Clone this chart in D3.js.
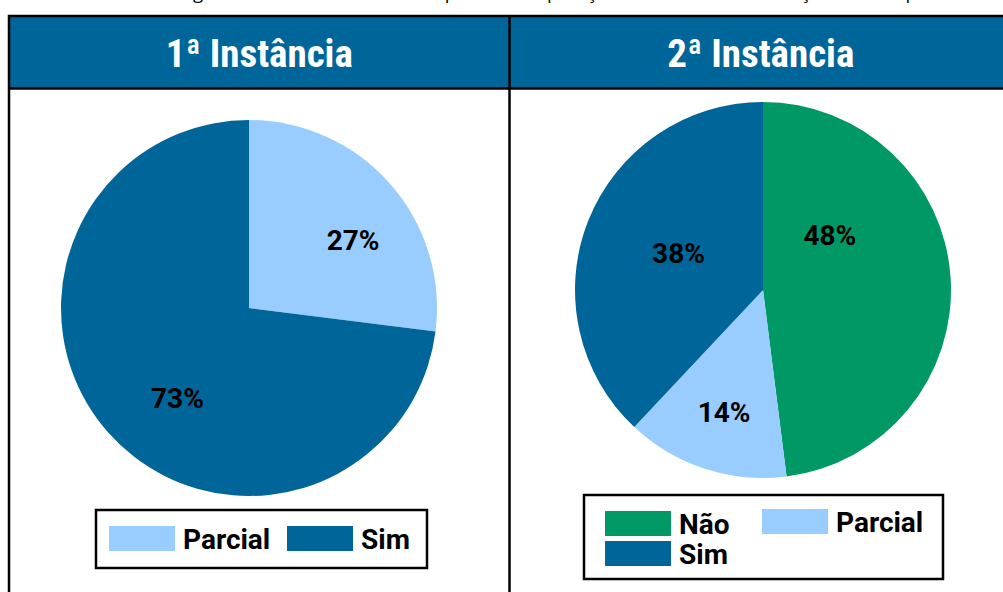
<!DOCTYPE html>
<html>
<head>
<meta charset="utf-8">
<script src="https://cdn.jsdelivr.net/npm/d3@7.9.0/dist/d3.min.js"></script>
<style>
  body { margin: 0; background: #fff; overflow: hidden; }
  svg { display: block; }
</style>
</head>
<body>
<svg id="chart"></svg>
<script>
// --- data ---
const captionText = 'Figura 4 – Reconhecimento do pedido de aplicação da minorante e redução sobre a pena em cada instância';
const panelTitles = ['1ª Instância', '2ª Instância'];
const firstCategories = ['Parcial', 'Sim'];
const firstValues = [27, 73];
const secondCategories = ['Não', 'Parcial', 'Sim'];
const secondValues = [48, 14, 38];

const colorOf = d3.scaleOrdinal()
  .domain(['Não', 'Parcial', 'Sim'])
  .range(['#009966', '#99ccff', '#006699']);

// label placement (angle in degrees from 12 o'clock, radius as fraction of r)
const firstLabelSpots = [[57, 0.66], [218.6, 0.61]];
const secondLabelSpots = [[50.6, 0.46], [197.7, 0.68], [293.5, 0.49]];

const width = 1003;
const height = 592;
const svg = d3.select('#chart').attr('width', width).attr('height', height);

// caption: sits above the frame, only its descenders reach into view
const cap = svg.append('text')
  .attr('x', 0).attr('y', -1)
  .style('font-family', '"Open Sans", sans-serif')
  .style('font-size', '18.6px')
  .attr('fill', '#000')
  .text(captionText);
{
  const node = cap.node();
  const gx = node.getStartPositionOfChar(captionText.indexOf('g')).x;
  cap.attr('x', 193 - gx);
}

// table frame
const table = { left: 9, top: 16, header: 88.5, mid: 509.5, right: 1012, bottom: 600 };

svg.append('rect')
  .attr('x', table.left).attr('y', table.top)
  .attr('width', table.right - table.left).attr('height', table.header - table.top)
  .attr('fill', '#006699');

const frame = svg.append('g').attr('stroke', '#000').attr('stroke-width', 2.5);
frame.append('rect')
  .attr('x', table.left).attr('y', table.top)
  .attr('width', table.right - table.left).attr('height', table.bottom - table.top)
  .attr('fill', 'none');
frame.append('line')
  .attr('x1', table.left).attr('x2', table.right)
  .attr('y1', table.header).attr('y2', table.header);
frame.append('line')
  .attr('x1', table.mid).attr('x2', table.mid)
  .attr('y1', table.top).attr('y2', table.bottom);

svg.selectAll('text.title')
  .data(panelTitles)
  .join('text')
  .attr('class', 'title')
  .attr('x', (d, i) => i === 0 ? (table.left + table.mid) / 2 : (table.mid + table.right) / 2)
  .attr('y', 67)
  .attr('text-anchor', 'middle')
  .attr('fill', '#fff')
  .style('font-family', '"Liberation Sans Narrow", "Roboto", sans-serif')
  .style('font-stretch', 'condensed')
  .style('font-weight', 'bold')
  .style('font-size', '39px')
  .text(d => d);

// pies
const radius = 188;
const pie = d3.pie().sort(null).value(d => d.value);
const arc = d3.arc().innerRadius(0).outerRadius(radius);

function drawPie(cx, cy, categories, values, spots) {
  const rows = categories.map((c, i) => ({ category: c, value: values[i] }));
  const g = svg.append('g').attr('transform', `translate(${cx},${cy})`);
  const arcs = pie(rows);

  g.selectAll('path')
    .data(arcs)
    .join('path')
    .attr('d', arc)
    .attr('fill', d => colorOf(d.data.category));

  g.selectAll('text')
    .data(arcs)
    .join('text')
    .attr('x', (d, i) => Math.sin(spots[i][0] * Math.PI / 180) * spots[i][1] * radius)
    .attr('y', (d, i) => -Math.cos(spots[i][0] * Math.PI / 180) * spots[i][1] * radius + 10)
    .attr('text-anchor', 'middle')
    .style('font-family', 'Roboto, sans-serif')
    .style('font-weight', 'bold')
    .style('font-size', '28px')
    .attr('fill', '#000')
    .text(d => d.data.value + '%');
}

drawPie(249, 308, firstCategories, firstValues, firstLabelSpots);
drawPie(763, 290, secondCategories, secondValues, secondLabelSpots);

// legends
function drawLegend(box, items) {
  const g = svg.append('g');
  g.append('rect')
    .attr('x', box.x).attr('y', box.y)
    .attr('width', box.w).attr('height', box.h)
    .attr('fill', '#fff')
    .attr('stroke', '#000')
    .attr('stroke-width', 2.5);

  const item = g.selectAll('g.item')
    .data(items)
    .join('g')
    .attr('class', 'item')
    .attr('transform', d => `translate(${d.x},${d.y})`);

  item.append('rect')
    .attr('width', 66).attr('height', 25)
    .attr('fill', d => colorOf(d.category));

  item.append('text')
    .attr('x', 74).attr('y', 23)
    .style('font-family', 'Roboto, sans-serif')
    .style('font-weight', 'bold')
    .style('font-size', '28px')
    .attr('fill', '#000')
    .text(d => d.category);
}

drawLegend({ x: 96, y: 510, w: 331, h: 58 }, [
  { category: firstCategories[0], x: 109, y: 526 },
  { category: firstCategories[1], x: 287, y: 526 },
]);

drawLegend({ x: 584, y: 495, w: 359, h: 84 }, [
  { category: secondCategories[0], x: 605, y: 511 },
  { category: secondCategories[1], x: 762, y: 509 },
  { category: secondCategories[2], x: 605, y: 541 },
]);
</script>
</body>
</html>
